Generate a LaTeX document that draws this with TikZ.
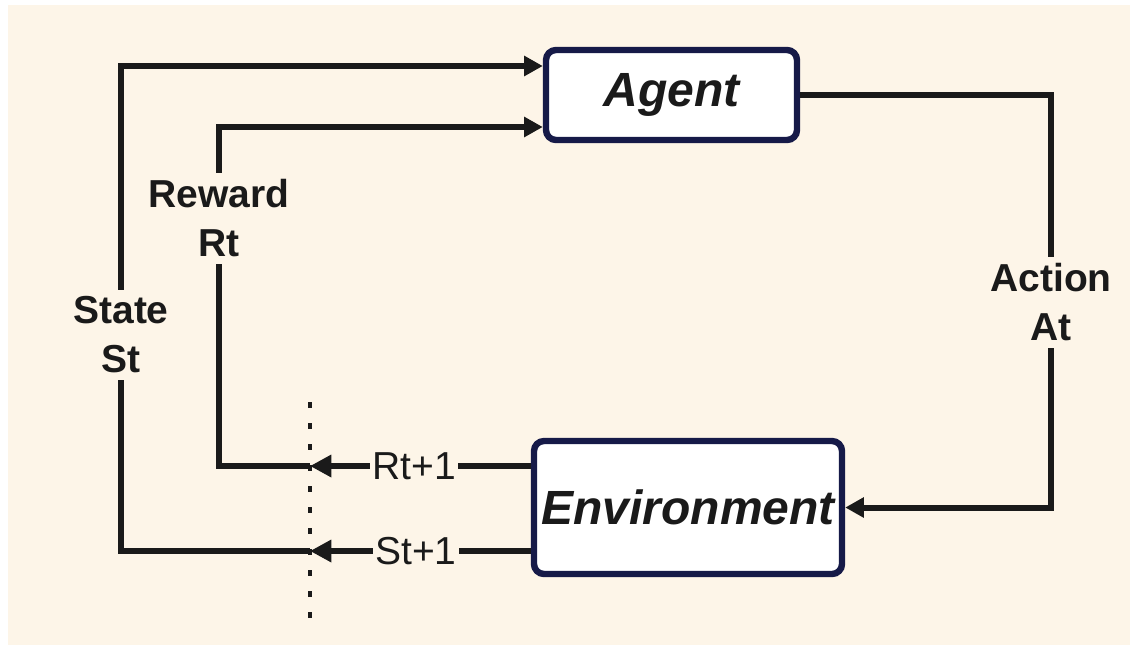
\documentclass[tikz,border=0pt]{standalone}
\usepackage{fontspec}
\setmainfont{Liberation Sans}
\usetikzlibrary{arrows.meta}
\definecolor{cream}{HTML}{FDF5E8}
\definecolor{navy}{HTML}{161A48}
\definecolor{ink}{HTML}{1A1A1A}

\begin{document}
\begin{tikzpicture}[x=0.75pt,y=-0.75pt,
  box/.style={draw=navy, line width=4.8pt, fill=white, rounded corners=7.5pt,
    font=\fontsize{36}{43}\selectfont\bfseries\itshape, text=ink, inner sep=0pt},
  flow/.style={draw=ink, line width=4.5pt},
  outflow/.style={draw=ink, line width=5pt},
  tip/.style={-{Triangle[length=14pt,width=14.5pt]}},
  bigtip/.style={-{Triangle[length=16pt,width=16pt]}},
  tag/.style={fill=cream, text=ink, align=center, inner sep=5pt,
    font=\fontsize{29.25}{36.75}\selectfont\bfseries},
  sub/.style={fill=cream, text=ink, inner sep=2pt,
    font=\fontsize{29.25}{35}\selectfont},
  guide/.style={draw=ink, line width=3pt, dash pattern=on 4.5pt off 11.25pt}]

% page and panel background
\useasboundingbox (0,0) rectangle (1130,644);
\fill[white] (0,0) rectangle (1130,644);
\fill[cream] (8,5) rectangle (1131,645);

% the two blocks
\node[box, minimum width=188.25pt, minimum height=67.5pt] (agent) at (671.5,95) {Agent};
\node[box, minimum width=231pt, minimum height=99.75pt] (env) at (688,507.5) {Environment};

% corner and crossing points of the feedback loops
\coordinate (stTop) at (121,66);
\coordinate (stBot) at (121,551);
\coordinate (rtTop) at (219,127);
\coordinate (rtBot) at (219,466);
\coordinate (rtCut) at (310,466);
\coordinate (stCut) at (310,551);
\coordinate (acTop) at (1051,95);
\coordinate (acBot) at (1051,507.5);
\coordinate (cutTop) at (310,402);
\coordinate (cutBot) at (310,620);

% time-step boundary
\draw[guide] (cutTop) -- (cutBot);

% action: agent -> environment
\draw[flow, tip] (agent.east |- acTop) -- (acTop) -- (acBot) -- (env.east |- acBot);

% reward: environment -> agent
\draw[outflow, bigtip] (env.west |- rtCut) -- (rtCut);
\draw[flow, tip] (rtCut) -- (rtBot) -- (rtTop) -- (rtTop -| agent.west);

% state: environment -> agent
\draw[outflow, bigtip] (env.west |- stCut) -- (stCut);
\draw[flow, tip] (stCut) -- (stBot) -- (stTop) -- (stTop -| agent.west);

% labels on the lines
\node[sub] (rnext) at (414,466) {Rt+1};
\node[sub] (snext) at (416,551) {St+1};
\node[tag] (rlab) at (219,218.5) {Reward\\Rt};
\node[tag] (slab) at (121,335) {State\\St};
\node[tag] (alab) at (1051,302.5) {Action\\At};
\end{tikzpicture}
\end{document}
